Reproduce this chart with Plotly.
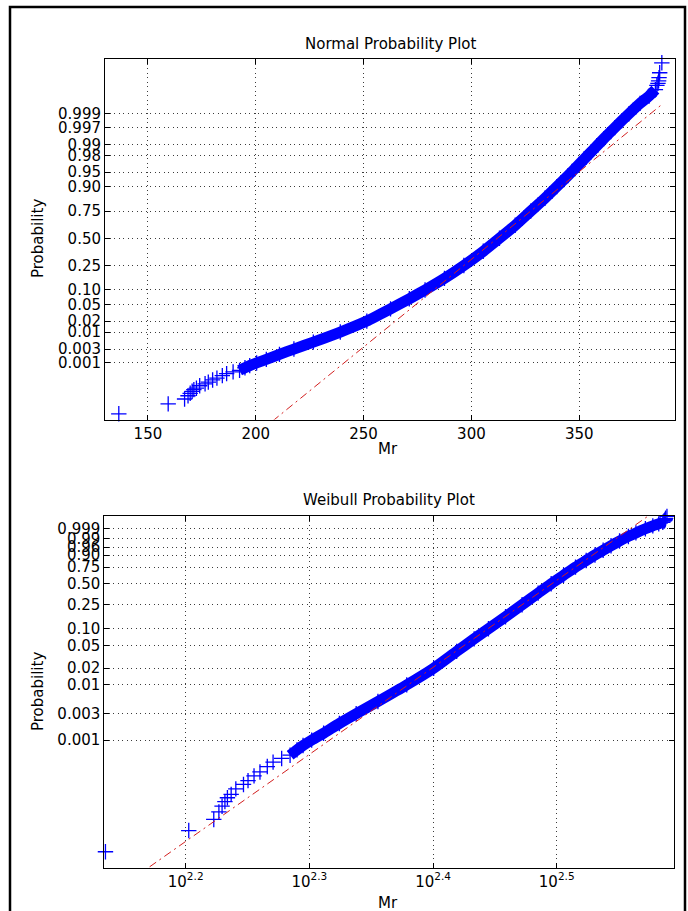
from statistics import NormalDist

import numpy as np
import plotly.graph_objects as go

# ---- sample (sorted Mr values at selected order-statistic ranks) ----
N_SAMPLES = 75000
ORDER_RANK = [1, 2, 3, 4, 5, 6, 7, 8, 10, 12, 14, 17, 20, 25, 30, 35, 40, 50, 60, 75,
              100, 150, 225, 375, 750, 1500, 3000, 5000, 7500, 12000, 18750, 28000,
              37500, 47000, 56250, 63000, 67500, 70500, 72500, 73800, 74500, 74775,
              74925, 74970, 74985, 74992, 74995, 74996, 74997, 74998, 74999, 75000]
MR_VALUES = [136.5, 159.4, 167.0, 168.6, 169.6, 170.5, 171.3, 172.5, 174.0, 176.5,
             178.0, 180.0, 182.0, 184.5, 186.5, 189.5, 192.5, 195.0, 197.2, 200.4,
             204.9, 211.0, 217.7, 226.7, 239.2, 251.5, 262.5, 271.2, 278.5, 287.5,
             296.5, 305.5, 313.0, 320.3, 327.5, 334.1, 339.6, 344.8, 349.9, 355.5,
             361.4, 366.5, 373.0, 378.2, 382.4, 385.3, 386.0, 386.5, 386.8, 387.0,
             387.3, 388.3]
BAND_FIRST_RANK = 40
BAND_LAST_RANK = 74992

# ---- tick definitions ----
NORMAL_P_TICKS = [0.001, 0.003, 0.01, 0.02, 0.05, 0.10, 0.25, 0.50, 0.75, 0.90,
                  0.95, 0.98, 0.99, 0.997, 0.999]
NORMAL_P_LABELS = ["0.001", "0.003", "0.01", "0.02", "0.05", "0.10", "0.25", "0.50",
                   "0.75", "0.90", "0.95", "0.98", "0.99", "0.997", "0.999"]
WEIBULL_P_TICKS = [0.001, 0.003, 0.01, 0.02, 0.05, 0.10, 0.25, 0.50, 0.75, 0.90,
                   0.96, 0.99, 0.999]
WEIBULL_P_LABELS = ["0.001", "0.003", "0.01", "0.02", "0.05", "0.10", "0.25", "0.50",
                    "0.75", "0.90", "0.96", "0.99", "0.999"]
NORMAL_X_TICKS = [150, 200, 250, 300, 350]
WEIBULL_X_EXPONENTS = [2.2, 2.3, 2.4, 2.5]

W, H = 688, 911
FONT = "DejaVu Sans"
BLUE = "rgb(0,0,255)"
RED = "rgb(210,30,30)"

nd = NormalDist()


def probit(p):
    return np.array([nd.inv_cdf(float(v)) for v in np.atleast_1d(p)])


def weibit(p):
    p = np.asarray(p, dtype=float)
    return np.log(-np.log(1.0 - p))


rank = np.array(ORDER_RANK, dtype=float)
mr = np.array(MR_VALUES, dtype=float)

# plotting positions used by normplot / wblplot
p_norm = (rank - 0.5) / N_SAMPLES
p_wbl = (rank - 0.3) / (N_SAMPLES + 0.4)
z_pts = probit(p_norm)
w_pts = weibit(p_wbl)

band = (rank >= BAND_FIRST_RANK) & (rank <= BAND_LAST_RANK)

# reference lines through the first and third quartiles
q1, q3 = np.interp([0.25, 0.75], p_norm, mr)
z25, z75 = probit([0.25, 0.75])
w25, w75 = weibit([0.25, 0.75])
x_ends = np.array([mr.min(), mr.max()])
z_line = z25 + (x_ends - q1) * (z75 - z25) / (q3 - q1)
w_line = w25 + (np.log(x_ends) - np.log(q1)) * (w75 - w25) / (np.log(q3) - np.log(q1))


def px(x):
    return x / W


def py(y):
    return 1 - y / H


marker = dict(symbol="cross-thin", size=11, color=BLUE, line=dict(color=BLUE, width=1.3))
band_line = dict(color=BLUE, width=11, shape="spline", smoothing=0.6)
ref_dash = "8px,4px,2px,4px"

fig = go.Figure()

# Normal probability plot
fig.add_trace(go.Scatter(x=mr[band], y=z_pts[band], mode="lines", line=band_line,
                         xaxis="x", yaxis="y", hoverinfo="skip"))
fig.add_trace(go.Scatter(x=mr, y=z_pts, mode="markers", marker=marker,
                         cliponaxis=False, xaxis="x", yaxis="y"))
fig.add_trace(go.Scatter(x=x_ends, y=z_line, mode="lines",
                         line=dict(color=RED, width=1, dash=ref_dash),
                         xaxis="x", yaxis="y"))

# Weibull probability plot
fig.add_trace(go.Scatter(x=mr[band], y=w_pts[band], mode="lines", line=band_line,
                         xaxis="x2", yaxis="y2", hoverinfo="skip"))
fig.add_trace(go.Scatter(x=mr, y=w_pts, mode="markers", marker=marker,
                         cliponaxis=False, xaxis="x2", yaxis="y2"))
fig.add_trace(go.Scatter(x=x_ends, y=w_line, mode="lines",
                         line=dict(color=RED, width=1, dash=ref_dash),
                         xaxis="x2", yaxis="y2"))

axis_common = dict(
    showline=True, linecolor="black", linewidth=1, mirror="ticks",
    ticks="inside", ticklen=5, tickcolor="black", tickwidth=1,
    showgrid=True, gridcolor="rgb(60,60,60)", gridwidth=1, griddash="1px,3.5px",
    zeroline=False, tickfont=dict(family=FONT, size=15, color="black"),
)

fig.update_layout(
    width=W, height=H,
    margin=dict(l=0, r=0, t=0, b=0),
    paper_bgcolor="white", plot_bgcolor="white",
    showlegend=False,
    xaxis=dict(axis_common, domain=[px(105), px(675)], range=[130.1, 394.4],
               tickmode="array", tickvals=NORMAL_X_TICKS,
               ticktext=[str(v) for v in NORMAL_X_TICKS], anchor="y"),
    yaxis=dict(axis_common, domain=[py(419.5), py(59)], range=[-4.496, 4.449],
               tickmode="array", tickvals=probit(NORMAL_P_TICKS),
               ticktext=NORMAL_P_LABELS, anchor="x"),
    xaxis2=dict(axis_common, type="log", domain=[px(104.3), px(674.3)],
                range=[2.1342, 2.5951], tickmode="array",
                tickvals=[10 ** e for e in WEIBULL_X_EXPONENTS],
                ticktext=[f"10<sup>{e}</sup>" for e in WEIBULL_X_EXPONENTS],
                anchor="y2"),
    yaxis2=dict(axis_common, domain=[py(867.7), py(516)], range=[-12.25, 2.466],
                tickmode="array", tickvals=weibit(WEIBULL_P_TICKS),
                ticktext=WEIBULL_P_LABELS, anchor="x2"),
)

text_font = dict(family=FONT, size=15, color="black")
annotations = [
    dict(text="Normal Probability Plot", x=px(390), y=py(44)),
    dict(text="Mr", x=px(388), y=py(449)),
    dict(text="Probability", x=px(38), y=py(239), textangle=-90),
    dict(text="Weibull Probability Plot", x=px(389), y=py(500)),
    dict(text="Mr", x=px(388), y=py(903)),
    dict(text="Probability", x=px(38), y=py(692), textangle=-90),
]
for a in annotations:
    fig.add_annotation(xref="paper", yref="paper", showarrow=False,
                       xanchor="center", yanchor="middle", font=text_font, **a)

# frame around the figure (its lower edge falls below the visible page)
fig.add_shape(type="rect", xref="paper", yref="paper",
              x0=px(10), x1=px(685), y0=py(916), y1=py(7),
              line=dict(color="black", width=2.5))

fig.write_html("out.html")
